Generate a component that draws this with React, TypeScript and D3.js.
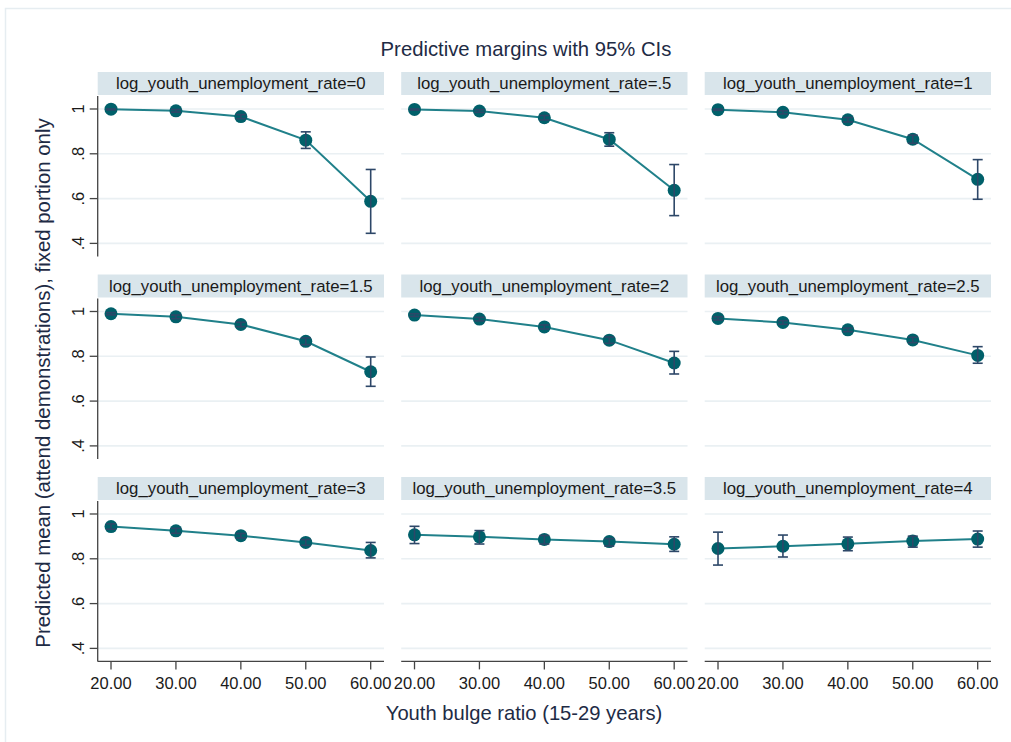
import React, { useEffect } from "react";
import * as d3 from "d3";

// youth bulge ratio values on the x axis
const xValues = [20, 30, 40, 50, 60];
const xTickLabels = ["20.00", "30.00", "40.00", "50.00", "60.00"];
const yTicks = [1, 0.8, 0.6, 0.4];
const yTickLabels = ["1", ".8", ".6", ".4"];

// one panel for each log_youth_unemployment_rate level
const unempLevels = ["0", ".5", "1", "1.5", "2", "2.5", "3", "3.5", "4"];

// predicted margins
const predicted = [
  [0.999, 0.992, 0.966, 0.861, 0.588],
  [0.998, 0.991, 0.961, 0.864, 0.637],
  [0.997, 0.985, 0.952, 0.865, 0.686],
  [0.99, 0.976, 0.942, 0.867, 0.731],
  [0.984, 0.966, 0.931, 0.872, 0.77],
  [0.969, 0.951, 0.918, 0.873, 0.804],
  [0.944, 0.925, 0.903, 0.873, 0.837],
  [0.907, 0.898, 0.886, 0.877, 0.865],
  [0.846, 0.856, 0.867, 0.879, 0.888],
];

const ciLower = [
  [0.996, 0.986, 0.957, 0.824, 0.445],
  [0.995, 0.985, 0.951, 0.834, 0.524],
  [0.994, 0.978, 0.942, 0.847, 0.597],
  [0.985, 0.968, 0.932, 0.852, 0.666],
  [0.978, 0.958, 0.922, 0.858, 0.721],
  [0.962, 0.943, 0.91, 0.861, 0.769],
  [0.932, 0.914, 0.893, 0.86, 0.804],
  [0.868, 0.866, 0.866, 0.857, 0.833],
  [0.772, 0.808, 0.836, 0.852, 0.852],
];

const ciUpper = [
  [1.0, 0.998, 0.975, 0.898, 0.73],
  [1.0, 0.997, 0.971, 0.894, 0.752],
  [1.0, 0.992, 0.962, 0.883, 0.774],
  [0.995, 0.984, 0.952, 0.882, 0.797],
  [0.99, 0.974, 0.94, 0.886, 0.822],
  [0.976, 0.959, 0.926, 0.885, 0.843],
  [0.956, 0.936, 0.913, 0.886, 0.873],
  [0.945, 0.926, 0.904, 0.89, 0.898],
  [0.919, 0.906, 0.897, 0.901, 0.924],
];

const width = 1011;
const height = 742;
const colLefts = [97.7, 401.2, 704.7];
const panelW = 286.3;
const stripTops = [72, 274.5, 477];
const stripH = 23;
const font = "'Liberation Sans', Arial, sans-serif";
const teal = "#00606a";
const lineTeal = "#20808a";
const ciColor = "#2d4768";
const textColor = "#1e2b45";

function Panel({ idx }: { idx: number }) {
  const col = idx % 3;
  const row = Math.floor(idx / 3);
  const left = colLefts[col];
  const top = stripTops[row];
  const plotTop = top + stripH + 1;

  const x = d3.scaleLinear().domain([17.95, 62.05]).range([left, left + panelW]);
  const y = d3
    .scaleLinear()
    .domain([1.058, 0.342])
    .range([plotTop, plotTop + (1.058 - 0.342) * 224]);
  const bottom = y(0.342);

  const pts = xValues.map((xv, i) => ({
    x: xv,
    est: predicted[idx][i],
    lo: ciLower[idx][i],
    hi: ciUpper[idx][i],
  }));
  const line = d3
    .line<{ x: number; est: number }>()
    .x((d) => x(d.x))
    .y((d) => y(d.est));

  return (
    <g>
      <rect x={left} y={top} width={panelW} height={stripH} fill="#d9e5eb" />
      <text
        x={left + panelW / 2}
        y={top + 17}
        textAnchor="middle"
        fontSize={16.8}
        fill="#1a1a1a"
      >
        {"log_youth_unemployment_rate=" + unempLevels[idx]}
      </text>
      {yTicks.map((t) => (
        <line
          key={t}
          x1={left}
          x2={left + panelW}
          y1={y(t)}
          y2={y(t)}
          stroke="#eaf0f3"
          strokeWidth={1.6}
        />
      ))}
      {col === 0 && (
        <g>
          <line x1={left} x2={left} y1={plotTop} y2={bottom} stroke="#444" strokeWidth={1.3} />
          {yTicks.map((t, i) => (
            <g key={t}>
              <line x1={left - 8} x2={left} y1={y(t)} y2={y(t)} stroke="#444" strokeWidth={1.3} />
              <text
                transform={`translate(${left - 14},${y(t)}) rotate(-90)`}
                textAnchor="middle"
                fontSize={16.5}
                fill="#1a1a1a"
              >
                {yTickLabels[i]}
              </text>
            </g>
          ))}
        </g>
      )}
      {row === 2 && (
        <g>
          <line x1={left} x2={left + panelW} y1={bottom} y2={bottom} stroke="#444" strokeWidth={1.3} />
          {xValues.map((v, i) => (
            <g key={v}>
              <line x1={x(v)} x2={x(v)} y1={bottom} y2={bottom + 8} stroke="#444" strokeWidth={1.3} />
              <text x={x(v)} y={bottom + 28} textAnchor="middle" fontSize={16.5} fill="#1a1a1a">
                {xTickLabels[i]}
              </text>
            </g>
          ))}
        </g>
      )}
      <path d={line(pts) || ""} fill="none" stroke={lineTeal} strokeWidth={2} />
      {pts.map((d) => (
        <circle key={d.x} cx={x(d.x)} cy={y(d.est)} r={6.5} fill={teal} />
      ))}
      {pts.map((d) => (
        <g key={"ci" + d.x} stroke={ciColor} strokeWidth={1.6}>
          <line x1={x(d.x)} x2={x(d.x)} y1={y(d.lo)} y2={y(d.hi)} />
          <line x1={x(d.x) - 5} x2={x(d.x) + 5} y1={y(d.lo)} y2={y(d.lo)} />
          <line x1={x(d.x) - 5} x2={x(d.x) + 5} y1={y(d.hi)} y2={y(d.hi)} />
        </g>
      ))}
    </g>
  );
}

export default function App() {
  useEffect(() => {
    document.body.style.margin = "0";
  }, []);

  return (
    <svg width={width} height={height} style={{ display: "block", fontFamily: font }}>
      <rect x={0} y={0} width={width} height={height} fill="#ffffff" />
      <rect x={5.5} y={8.5} width={width + 20} height={height + 20} fill="none" stroke="#e6edf1" strokeWidth={1.5} />
      <text x={526} y={56} textAnchor="middle" fontSize={20.3} fill={textColor}>
        Predictive margins with 95% CIs
      </text>
      {unempLevels.map((_, i) => (
        <Panel key={i} idx={i} />
      ))}
      <text x={524} y={720} textAnchor="middle" fontSize={20.2} fill={textColor}>
        Youth bulge ratio (15-29 years)
      </text>
      <text
        transform={`translate(50,383) rotate(-90)`}
        textAnchor="middle"
        fontSize={20.4}
        fill={textColor}
      >
        Predicted mean (attend demonstrations), fixed portion only
      </text>
    </svg>
  );
}
